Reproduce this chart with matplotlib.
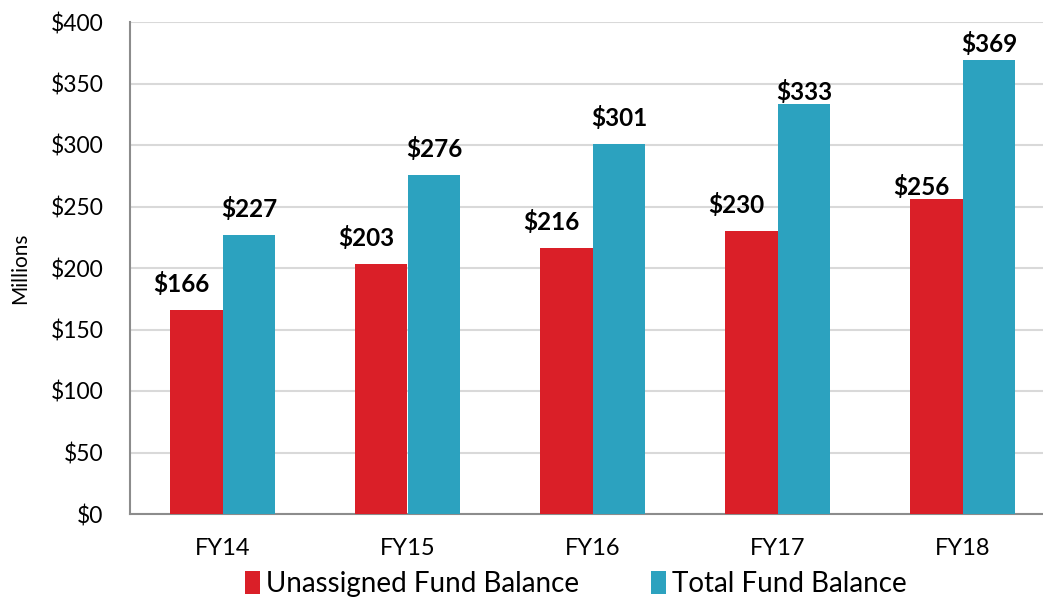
import matplotlib
matplotlib.use("Agg")
import matplotlib.pyplot as plt
import numpy as np

categories = ["FY14", "FY15", "FY16", "FY17", "FY18"]
unassigned = [166, 203, 216, 230, 256]
total = [227, 276, 301, 333, 369]
yticks = [0, 50, 100, 150, 200, 250, 300, 350, 400]

# label vertical offsets (points) as placed in the original
red_label_dy = [10, 10, 10, 10, 0]
blue_label_dy = [10, 10, 10, 0, 3]

RED = "#DA1F28"
BLUE = "#2CA2BF"

plt.rcParams['font.family'] = ['Lato', 'DejaVu Sans']

fig = plt.figure(figsize=(10.43, 5.99), dpi=100)
ax = fig.add_axes([130/1043, 85/599, 925/1043, 492/599])

x = np.arange(len(categories))
w = 0.285
b1 = ax.bar(x - w/2, unassigned, w, color=RED, label="Unassigned Fund Balance", zorder=3)
b2 = ax.bar(x + w/2, total, w, color=BLUE, label="Total Fund Balance", zorder=3)

for xi, v, dy in zip(x - w/2, unassigned, red_label_dy):
    ax.annotate(f"${v}", (xi, v), xytext=(-11, dy), textcoords="offset points",
                ha="center", va="bottom", fontsize=17.5, fontweight="bold", color="black")
for xi, v, dy in zip(x + w/2, total, blue_label_dy):
    ax.annotate(f"${v}", (xi, v), xytext=(0, dy), textcoords="offset points",
                ha="center", va="bottom", fontsize=17.5, fontweight="bold", color="black")

ax.set_xlim(-0.5, len(categories) - 0.5)
ax.set_ylim(0, 400)
ax.set_yticks(yticks)
ax.set_yticklabels([f"${t}" for t in yticks], fontsize=16.5)
ax.set_xticks(x)
ax.set_xticklabels(categories, fontsize=17)
ax.tick_params(axis="y", length=0, pad=19)
ax.tick_params(axis="x", length=0, pad=17)
ax.yaxis.grid(True, color="#D9D9D9", linewidth=1.5, zorder=0)
ax.set_axisbelow(True)
for s in ["top", "right"]:
    ax.spines[s].set_visible(False)
ax.spines["left"].set_color("#8C8C8C")
ax.spines["left"].set_linewidth(1.5)
ax.spines["bottom"].set_color("#8C8C8C")
ax.spines["bottom"].set_linewidth(1.5)
ax.set_ylabel("Millions", fontsize=15)
ax.yaxis.set_label_coords(-0.108, 0.5)

fig.legend(handles=[b1, b2], loc="center", bbox_to_anchor=(0.552, 15/599),
           ncol=2, frameon=False, fontsize=20, handlelength=0.55, handleheight=0.9,
           handletextpad=0.2, columnspacing=2.6)

fig.savefig("out.png", dpi=100)
